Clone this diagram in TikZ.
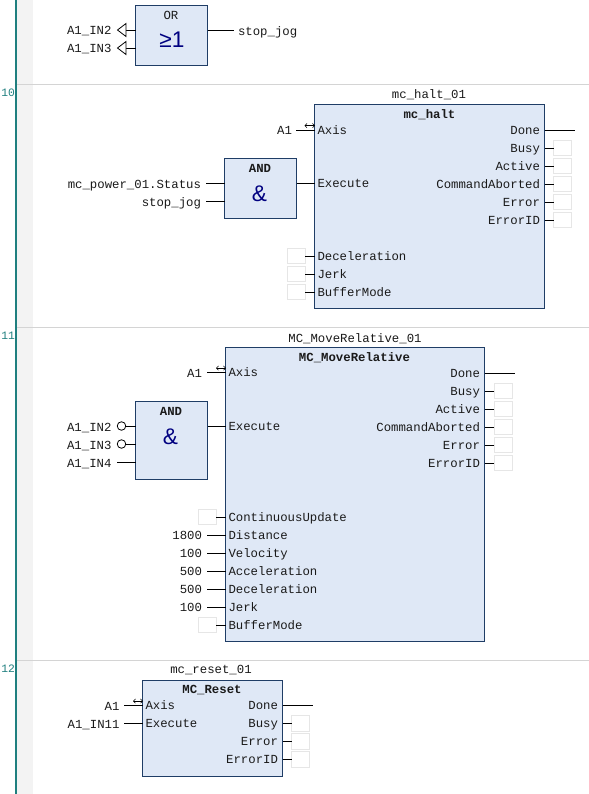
\documentclass[tikz,border=0pt]{standalone}
\usepackage{fontspec}
\setmainfont{Liberation Mono}
\newfontfamily\gatefont{Liberation Sans}
\usetikzlibrary{arrows.meta}
\definecolor{fbfill}{HTML}{DFE8F6}
\definecolor{fbline}{HTML}{1F3D66}
\definecolor{rail}{HTML}{1F7F7F}
\definecolor{band}{HTML}{F3F3F3}
\definecolor{sep}{HTML}{D4D4D4}
\definecolor{ghost}{HTML}{E6E6E6}
\definecolor{gateblue}{HTML}{000080}
\definecolor{ink}{HTML}{1A1A1A}
\tikzset{
  x=0.75pt,y=-0.75pt,
  fb/.style={draw=fbline,fill=fbfill,line width=0.8pt,inner sep=0pt,outer sep=0pt,anchor=north west},
  lbl/.style={font=\fontsize{9.25}{10}\selectfont,text=ink,inner sep=0pt,outer sep=0pt},
  boldlbl/.style={lbl,font=\bfseries\fontsize{9.25}{10}\selectfont},
  gate/.style={font=\gatefont\fontsize{17}{18}\selectfont,text=gateblue,inner sep=0pt},
  wire/.style={draw=black,line width=0.75pt},
  slot/.style={draw=ghost,fill=white,line width=0.75pt,inner sep=0pt,outer sep=0pt,minimum width=13.5pt,minimum height=11.5pt},
  ltri/.style={draw=black,line width=0.6pt,fill=white},
  negc/.style={draw=black,line width=0.6pt,fill=white,circle,inner sep=0pt,outer sep=0pt,minimum size=6.4pt},
  inout/.style={draw=black,line width=0.4pt,{Straight Barb[length=1.6pt,width=3.2pt]}-{Straight Barb[length=1.6pt,width=3.2pt]}},
  rung/.style={draw=sep,line width=0.75pt},
  netno/.style={font=\fontsize{8.5}{10}\selectfont,text=rail,inner sep=0pt,anchor=base west}
}
% box: name, x, y, width, height (px)
\newcommand\blockbox[5]{\node[fb,minimum width=#4*0.75pt,minimum height=#5*0.75pt] (#1) at (#2,#3) {};}
% pins inside a box: box, id, y, text
\newcommand\pinleft[4]{\coordinate (#2) at (#1.west |- 0,#3);
  \node[lbl,anchor=base west] (#2t) at ([xshift=2.25pt]#1.west |- 0,#3+4) {#4};}
\newcommand\pinright[4]{\coordinate (#2) at (#1.east |- 0,#3);
  \node[lbl,anchor=base east] (#2t) at ([xshift=-3.4pt]#1.east |- 0,#3+4) {#4};}
% outer text, right aligned at x: id, x, y, text
\newcommand\extleft[4]{\node[lbl,anchor=base east] (#1) at (#2,#3+4) {#4};}
% unconnected input slot and wire: box pin, id, slot centre x, y
\newcommand\slotwire[4]{\node[slot] (#2) at (#3,#4) {};\draw[wire] (#2) -- (#1);}
\begin{document}
\begin{tikzpicture}
\useasboundingbox (0,0) rectangle (589,794);
\fill[white] (0,0) rectangle (589,794);
\fill[band] (17,0) rectangle (33,794);
\fill[rail] (15,0) rectangle (17,794);
\coordinate (r10a) at (17,84.5); \coordinate (r10b) at (589,84.5);
\coordinate (r11a) at (17,327.5); \coordinate (r11b) at (589,327.5);
\coordinate (r12a) at (17,660.5); \coordinate (r12b) at (589,660.5);
\draw[rung] (r10a) -- (r10b);
\draw[rung] (r11a) -- (r11b);
\draw[rung] (r12a) -- (r12b);
\node[netno] (n10) at (1,96) {10};
\node[netno] (n11) at (1,339) {11};
\node[netno] (n12) at (1,672) {12};

% ---------- OR ----------
\blockbox{orb}{135.5}{5.5}{72}{60}
\node[boldlbl,font=\fontsize{9.25}{10}\selectfont] (ortitle) at (171,15.5) {OR};
\node[gate] (orsym) at (172,40) {≥1};
\coordinate (orin1) at (orb.west |- 0,30);
\coordinate (orin2) at (orb.west |- 0,48);
\coordinate (orout) at (orb.east |- 0,30);
\coordinate (orin1e) at (126,30); \coordinate (orin2e) at (126,48);
\coordinate (oroute) at (234,30);
\draw[wire] (orin1) -- (orin1e);
\draw[wire] (orin2) -- (orin2e);
\draw[wire] (orout) -- (oroute);
\draw[ltri] (orin1e) -- (126,23.5) -- (117.5,30) -- (126,36.5) -- cycle;
\draw[ltri] (orin2e) -- (126,41.5) -- (117.5,48) -- (126,54.5) -- cycle;
\extleft{orl1}{111.5}{30.5}{A1\_IN2}
\extleft{orl2}{111.5}{48.5}{A1\_IN3}
\node[lbl,anchor=base west] (orl3) at (238,35) {stop\_jog};

% ---------- mc_halt ----------
\blockbox{halt}{314.5}{104.5}{230}{204}
\node[lbl] (haltinst) at (429,94.5) {mc\_halt\_01};
\node[boldlbl] (halttitle) at (429.5,114.5) {mc\_halt};
\pinleft{halt}{hA}{130}{Axis}
\pinleft{halt}{hE}{183.5}{Execute}
\pinleft{halt}{hD}{256}{Deceleration}
\pinleft{halt}{hJ}{274}{Jerk}
\pinleft{halt}{hB}{292}{BufferMode}
\pinright{halt}{hoD}{130}{Done}
\pinright{halt}{hoB}{148}{Busy}
\pinright{halt}{hoA}{166}{Active}
\pinright{halt}{hoC}{184}{CommandAborted}
\pinright{halt}{hoE}{202}{Error}
\pinright{halt}{hoI}{220}{ErrorID}
\extleft{hA1}{292}{130.5}{A1}
\coordinate (hAe) at (296,130);
\draw[wire] (hAe) -- (hA);
\coordinate (hAa) at (304.5,125.5); \coordinate (hAb) at (315,125.5);
\draw[inout] (hAa) -- (hAb);
\coordinate (hoDe) at (575,130);
\draw[wire] (hoD) -- (hoDe);
\slotwire{hoB}{s1}{562.5}{148}
\slotwire{hoA}{s2}{562.5}{166}
\slotwire{hoC}{s3}{562.5}{184}
\slotwire{hoE}{s4}{562.5}{202}
\slotwire{hoI}{s5}{562.5}{220}
\slotwire{hD}{s6}{296}{256}
\slotwire{hJ}{s7}{296}{274}
\slotwire{hB}{s8}{296}{292}

% ---------- AND 1 ----------
\blockbox{andA}{224.5}{158.5}{72}{60}
\node[boldlbl] (andAt) at (260,168.5) {AND};
\node[gate] (andAs) at (259.5,194) {\&};
\coordinate (aAi1) at (andA.west |- 0,183);
\coordinate (aAi2) at (andA.west |- 0,201);
\coordinate (aAo) at (andA.east |- 0,183.5);
\coordinate (aAe1) at (206,183); \coordinate (aAe2) at (206,201);
\draw[wire] (aAe1) -- (aAi1);
\draw[wire] (aAe2) -- (aAi2);
\draw[wire] (aAo) -- (hE);
\extleft{aAl1}{201}{184}{mc\_power\_01.Status}
\extleft{aAl2}{201}{202}{stop\_jog}

% ---------- MC_MoveRelative ----------
\blockbox{mov}{225.5}{347.5}{259}{294}
\node[lbl] (movinst) at (355,338.5) {MC\_MoveRelative\_01};
\node[boldlbl] (movtitle) at (354.5,357.5) {MC\_MoveRelative};
\pinleft{mov}{mA}{372.5}{Axis}
\pinleft{mov}{mE}{426.5}{Execute}
\pinleft{mov}{mC}{517}{ContinuousUpdate}
\pinleft{mov}{mDi}{535}{Distance}
\pinleft{mov}{mV}{553}{Velocity}
\pinleft{mov}{mAc}{571}{Acceleration}
\pinleft{mov}{mDe}{589}{Deceleration}
\pinleft{mov}{mJ}{607}{Jerk}
\pinleft{mov}{mB}{625}{BufferMode}
\pinright{mov}{moD}{373}{Done}
\pinright{mov}{moB}{391}{Busy}
\pinright{mov}{moA}{409}{Active}
\pinright{mov}{moC}{427}{CommandAborted}
\pinright{mov}{moE}{445}{Error}
\pinright{mov}{moI}{463}{ErrorID}
\extleft{mA1}{202}{373}{A1}
\coordinate (mAe) at (207,372.5);
\draw[wire] (mAe) -- (mA);
\coordinate (mAa) at (216,368); \coordinate (mAb) at (226,368);
\draw[inout] (mAa) -- (mAb);
\coordinate (moDe) at (515,373);
\draw[wire] (moD) -- (moDe);
\slotwire{moB}{t1}{503}{391}
\slotwire{moA}{t2}{503}{409}
\slotwire{moC}{t3}{503}{427}
\slotwire{moE}{t4}{503}{445}
\slotwire{moI}{t5}{503}{463}
\slotwire{mC}{t6}{207}{517}
\slotwire{mB}{t7}{207}{625}
\extleft{v1}{202}{535}{1800}
\extleft{v2}{202}{553}{100}
\extleft{v3}{202}{571}{500}
\extleft{v4}{202}{589}{500}
\extleft{v5}{202}{607}{100}
\coordinate (v1e) at (207,535); \draw[wire] (v1e) -- (mDi);
\coordinate (v2e) at (207,553); \draw[wire] (v2e) -- (mV);
\coordinate (v3e) at (207,571); \draw[wire] (v3e) -- (mAc);
\coordinate (v4e) at (207,589); \draw[wire] (v4e) -- (mDe);
\coordinate (v5e) at (207,607); \draw[wire] (v5e) -- (mJ);

% ---------- AND 2 ----------
\blockbox{andB}{135.5}{401.5}{72}{78}
\node[boldlbl] (andBt) at (171,411.5) {AND};
\node[gate] (andBs) at (170.5,437) {\&};
\coordinate (aBi1) at (andB.west |- 0,426);
\coordinate (aBi2) at (andB.west |- 0,444);
\coordinate (aBi3) at (andB.west |- 0,462);
\coordinate (aBo) at (andB.east |- 0,426.5);
\node[negc] (neg1) at (121.5,426) {};
\node[negc] (neg2) at (121.5,444) {};
\coordinate (aBe3) at (117,462);
\draw[wire] (neg1) -- (aBi1);
\draw[wire] (neg2) -- (aBi2);
\draw[wire] (aBe3) -- (aBi3);
\draw[wire] (aBo) -- (mE);
\extleft{aBl1}{111.5}{427}{A1\_IN2}
\extleft{aBl2}{111.5}{445}{A1\_IN3}
\extleft{aBl3}{111.5}{463}{A1\_IN4}

% ---------- MC_Reset ----------
\blockbox{rst}{142.5}{680.5}{140}{96}
\node[lbl] (rstinst) at (211,670.5) {mc\_reset\_01};
\node[boldlbl] (rsttitle) at (212,690.5) {MC\_Reset};
\pinleft{rst}{rA}{705.5}{Axis}
\pinleft{rst}{rE}{723.5}{Execute}
\pinright{rst}{roD}{705.5}{Done}
\pinright{rst}{roB}{723.5}{Busy}
\pinright{rst}{roE}{741.5}{Error}
\pinright{rst}{roI}{759.5}{ErrorID}
\extleft{rA1}{119.5}{706}{A1}
\extleft{rI}{119.5}{724}{A1\_IN11}
\coordinate (rAe) at (124,705.5); \draw[wire] (rAe) -- (rA);
\coordinate (rIe) at (124,723.5); \draw[wire] (rIe) -- (rE);
\coordinate (rAa) at (133,701); \coordinate (rAb) at (143,701);
\draw[inout] (rAa) -- (rAb);
\coordinate (roDe) at (313,705.5);
\draw[wire] (roD) -- (roDe);
\slotwire{roB}{u1}{300.5}{723.5}
\slotwire{roE}{u2}{300.5}{741.5}
\slotwire{roI}{u3}{300.5}{759.5}
\end{tikzpicture}
\end{document}
